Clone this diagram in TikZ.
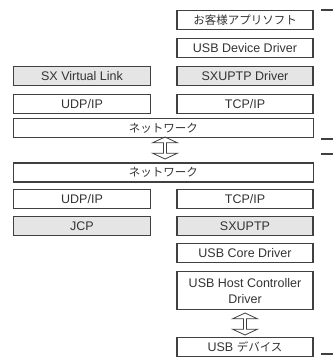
\documentclass[tikz,border=0pt]{standalone}
\usepackage{fontspec}
\setmainfont{Liberation Sans}
\newfontfamily\jp{Noto Sans CJK JP}[Scale=0.92]
\usetikzlibrary{shapes.arrows}

\begin{document}
\begin{tikzpicture}[x=1pt, y=-1pt, font=\fontsize{12.5}{16.5}\selectfont,
    layer/.style ={draw=black!75, line width=1.2pt, inner sep=0pt, minimum height=19pt, text=black!80},
    lcol/.style ={layer, minimum width=137pt},
    rcol/.style ={layer, minimum width=136pt},
    wide/.style ={layer, minimum width=300pt},
    greybox/.style ={fill=black!10},
    link/.style ={double arrow, draw=black!75, line width=0.8pt, rotate=90, inner sep=0pt,
                  minimum height=22pt, minimum width=25pt,
                  double arrow head extend=3pt, double arrow tip angle=130},
    tick/.style ={draw=black!75, line width=1.2pt}]
   \useasboundingbox (0,0) rectangle (333,358);

   \node[rcol] (app)  at (245,19.7)  {\jp お客様アプリソフト};
   \node[rcol] (usbdev)  at (245,48.3)  {USB Device Driver};
   \node[lcol, greybox] (sxlink)  at (82,76)  {SX Virtual Link};
   \node[rcol, greybox] (sxdrv)  at (245,76)  {SXUPTP Driver};
   \node[lcol] (udpa)  at (82,104)  {UDP/IP};
   \node[rcol] (tcpa)  at (245,104)  {TCP/IP};
   \node[wide] (neta)  at (163.3,127.8)  {\jp ネットワーク};

   \node[wide] (netb)  at (163.3,172.5)  {\jp ネットワーク};
   \node[lcol] (udpb)  at (82,198.7)  {UDP/IP};
   \node[rcol] (tcpb)  at (245,198.7)  {TCP/IP};
   \node[lcol, greybox] (jcp)  at (82,226.2)  {JCP};
   \node[rcol, greybox] (sxuptp)  at (245,226.2)  {SXUPTP};
   \node[rcol] (core)  at (245,253)  {USB Core Driver};
   \node[rcol, minimum height=38pt, align=center] (hcd)  at (245,290.8)  {USB Host Controller\\Driver};
   \node[rcol] (device)  at (245,346.7)  {USB {\jp デバイス}};

   \node[link] (netlink)  at (165,148)  {};
   \node[link] (usblink)  at (245,324)  {};

   \draw[tick] (321,10) -- (333,10);
   \draw[tick] (321,139) -- (333,139);
   \draw[tick] (321,154) -- (333,154);
   \draw[tick] (321,354) -- (333,354);
 \end{tikzpicture}
\end{document}
